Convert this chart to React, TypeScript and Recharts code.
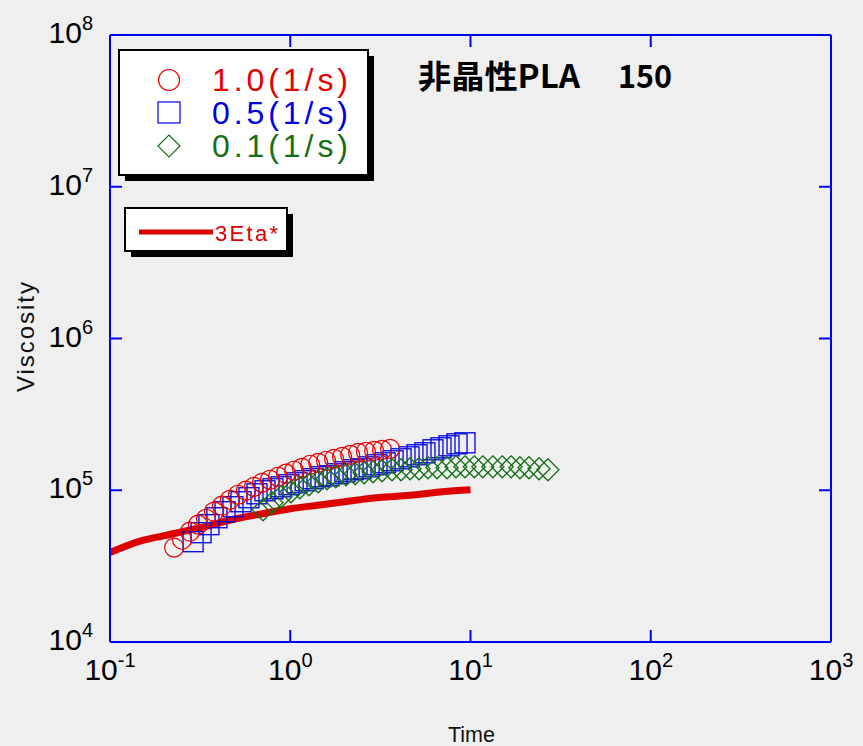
import React from 'react';
import { ComposedChart, XAxis, YAxis, Scatter, Line } from 'recharts';

// ---- tick values ----
const xTicks = [0.1, 1, 10, 100, 1000];
const yTicks = [1e4, 1e5, 1e6, 1e7, 1e8];

// ---- series: 1.0 (1/s) red circles ----
const tRed = [0.227, 0.251, 0.278, 0.308, 0.341, 0.378, 0.418, 0.463, 0.513, 0.568, 0.629, 0.697, 0.772, 0.855, 0.947, 1.05, 1.16, 1.29, 1.43, 1.58, 1.75, 1.94, 2.15, 2.38, 2.63, 2.92, 3.23, 3.58];
const vRed = [41900, 47200, 53300, 59300, 64900, 72300, 79100, 86600, 93400, 99300, 105400, 112000, 117300, 122700, 128500, 134400, 140600, 147200, 151700, 156400, 161200, 166000, 171300, 176500, 179200, 181900, 184700, 187500];

// ---- series: 0.5 (1/s) blue squares ----
const tBlue = [0.289, 0.32, 0.354, 0.392, 0.435, 0.481, 0.533, 0.59, 0.654, 0.724, 0.802, 0.889, 0.984, 1.09, 1.21, 1.34, 1.48, 1.64, 1.82, 2.01, 2.23, 2.47, 2.74, 3.03, 3.36, 3.72, 4.12, 4.56, 5.05, 5.59, 6.19, 6.86, 7.6, 8.42, 9.32];
const vBlue = [45800, 52500, 59300, 65900, 72200, 77900, 84000, 89300, 94800, 99200, 102300, 105400, 108700, 112000, 115500, 119100, 122700, 124600, 128400, 132300, 136400, 138500, 142700, 147200, 151700, 156400, 161200, 166100, 171300, 176500, 184700, 190400, 196300, 202300, 205400];

// ---- series: 0.1 (1/s) green diamonds ----
const tGreen = [0.706, 0.792, 0.889, 1.01, 1.13, 1.27, 1.43, 1.6, 1.79, 2.04, 2.29, 2.57, 2.88, 3.23, 3.67, 4.12, 4.62, 5.18, 5.81, 6.52, 7.41, 8.31, 9.32, 10.5, 11.7, 13.3, 15.0, 16.8, 18.8, 21.1, 24.0, 26.9];
const vGreen = [74400, 82800, 90600, 97800, 103800, 108700, 113700, 119100, 122700, 126500, 128400, 130400, 132300, 134400, 136400, 136400, 138500, 138500, 140600, 140600, 140600, 142700, 142700, 142700, 142700, 142700, 142700, 142700, 140600, 140600, 138500, 136400];

// ---- series: 3Eta* red line ----
const tEta = [0.1, 0.15, 0.2, 0.3, 0.5, 0.7, 1, 1.5, 2, 3, 5, 7, 10];
const vEta = [38800, 46500, 50200, 55800, 64900, 70000, 75500, 80300, 84000, 89300, 93400, 97700, 100700];

// ---- labels ----
const legendLabels = ['1.0(1/s)', '0.5(1/s)', '0.1(1/s)'];
const lineLabel = '3Eta*';
const titleMain = '非晶性PLA';
const titleTemp = '150';
const xTitle = 'Time';
const yTitle = 'Viscosity';

const zip = (t: number[], v: number[]) => t.map((x, i) => ({ t: x, v: v[i] }));
const redData = zip(tRed, vRed);
const blueData = zip(tBlue, vBlue);
const greenData = zip(tGreen, vGreen);
const etaData = zip(tEta, vEta);

const AXIS = '#0000f0';
const RED = '#e60000';
const BLUE = '#0000e6';
const GREEN = '#157015';
const LINE_RED = '#dd0000';
const TICK_LEN = 12;
const FONT = '"Liberation Sans", Arial, sans-serif';

const expOf = (v: number) => String(Math.round(Math.log10(v)));

const BottomTick = (props: any) => {
  const { x, y, payload } = props;
  return (
    <g>
      <line x1={x} y1={y} x2={x} y2={y - TICK_LEN} stroke={AXIS} strokeWidth={2} />
      <text x={x} y={y + 38} textAnchor="middle" fontFamily={FONT} fill="#000">
        <tspan fontSize={30}>10</tspan>
        <tspan fontSize={20} dy={-13}>{expOf(payload.value)}</tspan>
      </text>
    </g>
  );
};

const TopTick = (props: any) => {
  const { x, y } = props;
  return <line x1={x} y1={y} x2={x} y2={y + TICK_LEN} stroke={AXIS} strokeWidth={2} />;
};

const LeftTick = (props: any) => {
  const { x, y, payload } = props;
  return (
    <g>
      <line x1={x} y1={y} x2={x + TICK_LEN} y2={y} stroke={AXIS} strokeWidth={2} />
      <text x={x - 17} y={y + 8} textAnchor="end" fontFamily={FONT} fill="#000">
        <tspan fontSize={30}>10</tspan>
        <tspan fontSize={20} dy={-13}>{expOf(payload.value)}</tspan>
      </text>
    </g>
  );
};

const RightTick = (props: any) => {
  const { x, y } = props;
  return <line x1={x} y1={y} x2={x - TICK_LEN} y2={y} stroke={AXIS} strokeWidth={2} />;
};

const Circle = (p: any) => <circle cx={p.cx} cy={p.cy} r={9.5} fill="none" stroke={RED} strokeWidth={1.2} />;
const Square = (p: any) => <rect x={p.cx - 10} y={p.cy - 10} width={20} height={20} fill="none" stroke={BLUE} strokeWidth={1.3} />;
const Diamond = (p: any) => (
  <polygon
    points={`${p.cx},${p.cy - 11} ${p.cx + 11},${p.cy} ${p.cx},${p.cy + 11} ${p.cx - 11},${p.cy}`}
    fill="none"
    stroke={GREEN}
    strokeWidth={1.3}
  />
);

export default function App() {
  return (
    <div style={{ position: 'fixed', left: 0, top: 0, width: 863, height: 746, background: '#efefef', overflow: 'hidden' }}>
      <ComposedChart width={863} height={746} margin={{ top: 5, right: 22, bottom: 44, left: 10 }}>
        <XAxis
          dataKey="t"
          type="number"
          scale="log"
          domain={[0.1, 1000]}
          ticks={xTicks}
          allowDataOverflow
          height={60}
          tickSize={0}
          tickMargin={0}
          tickLine={false}
          axisLine={{ stroke: AXIS, strokeWidth: 2 }}
          tick={<BottomTick />}
          interval={0}
        />
        <XAxis
          xAxisId="top"
          orientation="top"
          dataKey="t"
          type="number"
          scale="log"
          domain={[0.1, 1000]}
          ticks={xTicks}
          allowDataOverflow
          height={30}
          tickSize={0}
          tickMargin={0}
          tickLine={false}
          axisLine={{ stroke: AXIS, strokeWidth: 2 }}
          tick={<TopTick />}
          interval={0}
        />
        <YAxis
          dataKey="v"
          type="number"
          scale="log"
          domain={[1e4, 1e8]}
          ticks={yTicks}
          allowDataOverflow
          width={100}
          tickSize={0}
          tickMargin={0}
          tickLine={false}
          axisLine={{ stroke: AXIS, strokeWidth: 2 }}
          tick={<LeftTick />}
          interval={0}
        />
        <YAxis
          yAxisId="right"
          orientation="right"
          dataKey="v"
          type="number"
          scale="log"
          domain={[1e4, 1e8]}
          ticks={yTicks}
          allowDataOverflow
          width={10}
          tickSize={0}
          tickMargin={0}
          tickLine={false}
          axisLine={{ stroke: AXIS, strokeWidth: 2 }}
          tick={<RightTick />}
          interval={0}
        />
        <Scatter data={blueData} dataKey="v" shape={Square} isAnimationActive={false} />
        <Scatter data={redData} dataKey="v" shape={Circle} isAnimationActive={false} />
        <Scatter data={greenData} dataKey="v" shape={Diamond} isAnimationActive={false} />
        <Line data={etaData} dataKey="v" type="monotone" stroke={LINE_RED} strokeWidth={7} dot={false} activeDot={false} isAnimationActive={false} />
      </ComposedChart>

      <svg width={863} height={746} style={{ position: 'absolute', left: 0, top: 0, pointerEvents: 'none' }}>
        {/* legend 1 */}
        <rect x={125} y={56} width={249} height={125} fill="#000" />
        <rect x={119} y={50} width={249} height={125} fill="#fff" stroke="#000" strokeWidth={2} />
        <circle cx={169} cy={80} r={10.5} fill="none" stroke={RED} strokeWidth={1.2} />
        <rect x={158} y={102} width={22} height={21} fill="none" stroke={BLUE} strokeWidth={1.2} />
        <polygon points="169,135 180,146 169,157 158,146" fill="none" stroke={GREEN} strokeWidth={1.2} />
        <text x={212} y={91} fontFamily={FONT} fontSize={32} fill={RED} textLength={136} lengthAdjust="spacing">{legendLabels[0]}</text>
        <text x={212} y={124} fontFamily={FONT} fontSize={32} fill={BLUE} textLength={136} lengthAdjust="spacing">{legendLabels[1]}</text>
        <text x={212} y={157} fontFamily={FONT} fontSize={32} fill={GREEN} textLength={136} lengthAdjust="spacing">{legendLabels[2]}</text>

        {/* legend 2 */}
        <rect x={131} y={214} width={162} height={43} fill="#000" />
        <rect x={125} y={208} width={162} height={43} fill="#fff" stroke="#000" strokeWidth={2} />
        <line x1={139} y1={232} x2={213} y2={232} stroke={LINE_RED} strokeWidth={5} />
        <text x={215} y={241} fontFamily={FONT} fontSize={22} fill={LINE_RED} textLength={63} lengthAdjust="spacing">{lineLabel}</text>

        {/* title */}
        <text x={418} y={88} fontFamily='"Noto Sans CJK JP", "Noto Sans CJK SC", sans-serif' fontWeight="bold" fontSize={32} fill="#000" textLength={162} lengthAdjust="spacingAndGlyphs">{titleMain}</text>
        <text x={618} y={88} fontFamily='"Noto Sans CJK JP", "Liberation Sans", sans-serif' fontWeight="bold" fontSize={32} fill="#000" textLength={54} lengthAdjust="spacingAndGlyphs">{titleTemp}</text>

        {/* axis titles */}
        <text x={448} y={742} fontFamily={FONT} fontSize={22} fill="#111" textLength={47} lengthAdjust="spacingAndGlyphs">{xTitle}</text>
        <text transform="translate(34,337) rotate(-90)" textAnchor="middle" fontFamily={FONT} fontSize={24} fill="#111" textLength={110} lengthAdjust="spacing">{yTitle}</text>
      </svg>
    </div>
  );
}
